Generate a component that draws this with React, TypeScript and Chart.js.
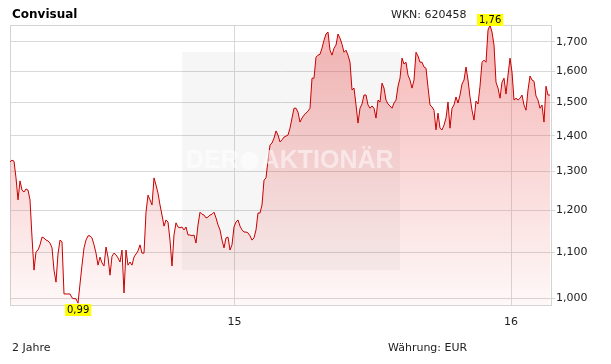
import React, { useEffect, useRef } from "react";
import { Chart, registerables } from "chart.js";

Chart.register(...registerables);

// Daily-ish closing prices (EUR), oldest first, two years
const prices: number[] = [
  1.326, 1.331, 1.328, 1.283, 1.226, 1.275, 1.251, 1.246, 1.254, 1.251,
  1.226, 1.135, 1.060, 1.101, 1.105, 1.117, 1.135, 1.133, 1.128, 1.126,
  1.121, 1.110, 1.060, 1.034, 1.096, 1.128, 1.124, 1.009, 1.009, 1.009,
  1.009, 1.001, 0.999, 0.999, 0.990, 1.030, 1.071, 1.110, 1.128, 1.138,
  1.138, 1.133, 1.117, 1.098, 1.071, 1.089, 1.076, 1.069, 1.112, 1.089,
  1.049, 1.091, 1.098, 1.094, 1.087, 1.078,
  1.105, 1.011, 1.105, 1.071, 1.078, 1.071, 1.089, 1.096, 1.103, 1.117,
  1.098, 1.098, 1.195, 1.238, 1.226, 1.213, 1.283, 1.264, 1.243, 1.213,
  1.188, 1.161, 1.176, 1.171, 1.128, 1.069, 1.140, 1.169, 1.159, 1.157,
  1.159, 1.152, 1.159, 1.140, 1.140, 1.138, 1.140, 1.121, 1.164, 1.195,
  1.190, 1.188, 1.181, 1.183, 1.188, 1.190, 1.195, 1.181, 1.164, 1.152,
  1.128, 1.110, 1.133, 1.135,
  1.105, 1.117, 1.159, 1.171, 1.176, 1.161, 1.152, 1.147, 1.147, 1.145,
  1.138, 1.128, 1.133, 1.152, 1.193, 1.193, 1.213, 1.277, 1.283, 1.331,
  1.373, 1.379, 1.393, 1.414, 1.402, 1.382, 1.388, 1.396, 1.399, 1.402,
  1.422, 1.452, 1.482, 1.482, 1.470, 1.440, 1.452, 1.461, 1.467, 1.473,
  1.482, 1.577, 1.577, 1.647, 1.654, 1.657, 1.678, 1.706, 1.728, 1.735,
  1.671, 1.654, 1.678, 1.689, 1.728, 1.713,
  1.692, 1.664, 1.671, 1.654, 1.630, 1.539, 1.545, 1.492, 1.437, 1.482,
  1.495, 1.523, 1.523, 1.492, 1.482, 1.489, 1.482, 1.452, 1.507, 1.501,
  1.561, 1.545, 1.507, 1.495, 1.489, 1.482, 1.498, 1.507, 1.551, 1.577,
  1.644, 1.624, 1.630, 1.587, 1.571, 1.545, 1.571, 1.664, 1.651, 1.630,
  1.630, 1.614, 1.610, 1.548, 1.492, 1.486, 1.476, 1.417, 1.467, 1.422,
  1.417, 1.431, 1.452, 1.501,
  1.422, 1.482, 1.492, 1.517, 1.498, 1.523, 1.558, 1.571, 1.614, 1.571,
  1.517, 1.476, 1.446, 1.504, 1.495, 1.551, 1.630, 1.637, 1.630, 1.742,
  1.760, 1.735, 1.689, 1.564, 1.545, 1.513, 1.564, 1.577, 1.526, 1.587,
  1.644, 1.597, 1.507, 1.513, 1.507, 1.513, 1.523, 1.492, 1.476, 1.539,
  1.584, 1.571, 1.567, 1.520, 1.507, 1.482, 1.492, 1.440, 1.551, 1.523,
  1.523,
];

const yTickValues: number[] = [1.0, 1.1, 1.2, 1.3, 1.4, 1.5, 1.6, 1.7];
const yMin = 0.9862;
const yMax = 1.7605;
// positions (in sample index units) of the year starts
const xTickPositions: number[] = [112.25, 250.5];
const xTickLabels: string[] = ["15", "16"];
const xMax = 270.5;

const titleText = "Convisual";
const wknText = "WKN: 620458";
const periodText = "2 Jahre";
const currencyText = "Währung: EUR";
const watermarkLeft = "DER";
const watermarkRight = "AKTIONÄR";

const FONT = '"DejaVu Sans", Verdana, sans-serif';
const fmt = (v: number, d: number) => v.toFixed(d).replace(".", ",");

const framePlugin = {
  id: "frameAndWatermark",
  beforeDatasetsDraw(chart: any) {
    const { ctx, chartArea: a } = chart;
    const w = a.right - a.left;
    const h = a.bottom - a.top;
    ctx.save();
    ctx.fillStyle = "rgba(0,0,0,0.035)";
    ctx.fillRect(a.left + w * 0.318, a.top + h * 0.096, w * 0.403, h * 0.78);
    ctx.strokeStyle = "#d4d4d4";
    ctx.lineWidth = 1;
    ctx.strokeRect(Math.round(a.left) + 0.5, Math.round(a.top) + 0.5, Math.round(w), Math.round(h));
    ctx.restore();
  },
  afterDatasetsDraw(chart: any) {
    const { ctx, chartArea: a } = chart;
    const w = a.right - a.left;
    const h = a.bottom - a.top;
    ctx.save();
    ctx.fillStyle = "rgba(255,255,255,0.5)";
    ctx.font = 'bold 25px "Liberation Sans", Arial, sans-serif';
    ctx.textBaseline = "middle";
    const cy = a.top + h * 0.485;
    const x0 = a.left + w * 0.325;
    ctx.fillText(watermarkLeft, x0, cy);
    const dw = ctx.measureText(watermarkLeft).width;
    ctx.beginPath();
    ctx.arc(x0 + dw + 11, cy, 9, 0, Math.PI * 2);
    ctx.fill();
    ctx.fillText(watermarkRight, x0 + dw + 23, cy);
    ctx.restore();

    // min / max labels
    const meta = chart.getDatasetMeta(0);
    let maxI = 0;
    let minI = 0;
    prices.forEach((v, i) => {
      if (v > prices[maxI]) maxI = i;
      if (v < prices[minI]) minI = i;
    });
    const drawLabel = (i: number, above: boolean) => {
      const pt = meta.data[i];
      const text = fmt(prices[i], 2);
      ctx.save();
      ctx.font = "10px " + FONT;
      const tw = ctx.measureText(text).width;
      const bw = tw + 4;
      const bh = 12;
      const bx = Math.round(pt.x - bw / 2);
      const by = above ? Math.round(pt.y - bh + 1) : Math.round(pt.y + 1);
      ctx.fillStyle = "#ffff00";
      ctx.fillRect(bx, by, bw, bh);
      ctx.fillStyle = "#000";
      ctx.textBaseline = "middle";
      ctx.textAlign = "center";
      ctx.fillText(text, bx + bw / 2, by + bh / 2 + 0.5);
      ctx.restore();
    };
    drawLabel(maxI, true);
    drawLabel(minI, false);
  },
};

export default function App() {
  const ref = useRef<HTMLCanvasElement | null>(null);
  useEffect(() => {
    document.body.style.margin = "0";
    const canvas = ref.current;
    if (!canvas) return;
    const chart = new Chart(canvas, {
      type: "line",
      data: {
        datasets: [
          {
            data: prices.map((v, i) => ({ x: i, y: v })),
            borderColor: "#c80000",
            borderWidth: 1,
            pointRadius: 0,
            tension: 0,
            fill: "start",
            backgroundColor: (c: any) => {
              const { chart: ch } = c;
              const area = ch.chartArea;
              if (!area) return "rgba(232,80,80,0.2)";
              const g = ch.ctx.createLinearGradient(0, area.top, 0, area.bottom);
              g.addColorStop(0, "rgba(232,70,70,0.40)");
              g.addColorStop(1, "rgba(232,70,70,0.04)");
              return g;
            },
          },
        ],
      },
      options: {
        animation: false,
        responsive: false,
        devicePixelRatio: 1,
        layout: { padding: { left: 10, top: 25, right: 0, bottom: 0 } },
        plugins: { legend: { display: false }, tooltip: { enabled: false } },
        scales: {
          x: {
            type: "linear",
            min: 0,
            max: xMax,
            afterBuildTicks: (s: any) => {
              s.ticks = xTickPositions.map((v) => ({ value: v }));
            },
            afterFit: (s: any) => {
              s.height = 59;
            },
            ticks: {
              autoSkip: false,
              maxRotation: 0,
              padding: 11,
              color: "#222",
              font: { family: FONT, size: 11 },
              callback: (v: any) => xTickLabels[xTickPositions.indexOf(Number(v))] ?? "",
            },
            grid: { color: "#d9d9d9", drawTicks: false },
            border: { display: false },
          },
          y: {
            type: "logarithmic",
            position: "right",
            min: yMin,
            max: yMax,
            afterBuildTicks: (s: any) => {
              s.ticks = yTickValues.map((v) => ({ value: v }));
            },
            afterFit: (s: any) => {
              s.width = 60;
            },
            ticks: {
              autoSkip: false,
              padding: 1,
              color: "#222",
              font: { family: FONT, size: 11 },
              callback: (v: any) => fmt(Number(v), 3),
            },
            grid: { color: "#d9d9d9", tickLength: 4 },
            border: { display: false },
          },
        },
      },
      plugins: [framePlugin],
    } as any);
    return () => chart.destroy();
  }, []);

  const textBase: React.CSSProperties = {
    position: "absolute",
    fontFamily: FONT,
    fontSize: 11,
    lineHeight: "13px",
    color: "#222",
    whiteSpace: "nowrap",
  };

  return (
    <div style={{ position: "relative", width: 611, height: 364, background: "#fff" }}>
      <canvas ref={ref} width={611} height={364} style={{ display: "block", width: 611, height: 364 }} />
      <div style={{ ...textBase, left: 12, top: 7, fontSize: 12, lineHeight: "14px", fontWeight: "bold", color: "#000" }}>
        {titleText}
      </div>
      <div style={{ ...textBase, left: 391, top: 8 }}>{wknText}</div>
      <div style={{ ...textBase, left: 12, top: 341 }}>{periodText}</div>
      <div style={{ ...textBase, left: 388, top: 341 }}>{currencyText}</div>
    </div>
  );
}
